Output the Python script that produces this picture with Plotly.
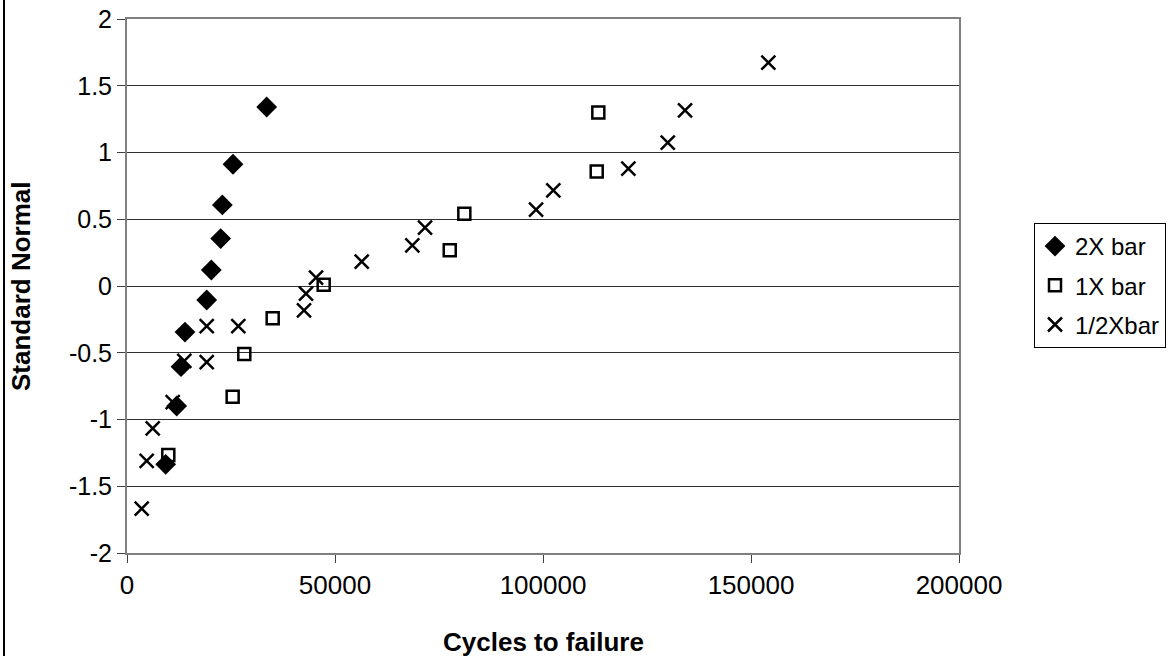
import plotly.graph_objects as go

# 2X bar (filled diamonds)
x_2x = [9300, 11940, 12980, 13940, 19160, 20270, 22520, 22920, 25480, 33580]
y_2x = [-1.336, -0.899, -0.604, -0.345, -0.105, 0.120, 0.355, 0.607, 0.912, 1.341]

# 1X bar (open squares)
x_1x = [9930, 25400, 28200, 35020, 47280, 77580, 81090, 112910, 113300]
y_1x = [-1.265, -0.829, -0.510, -0.242, 0.010, 0.267, 0.542, 0.857, 1.299]

# 1/2X bar (crosses)
x_half = [3530, 4730, 6180, 10980, 13780, 19160, 19160, 26760, 42550, 43030,
          45440, 56420, 68590, 71640, 98330, 102480, 120520, 129990, 134140, 154170]
y_half = [-1.668, -1.310, -1.066, -0.870, -0.560, -0.570, -0.300, -0.300, -0.182, -0.057,
          0.063, 0.183, 0.305, 0.437, 0.572, 0.717, 0.879, 1.074, 1.316, 1.673]

x_ticks = [0, 50000, 100000, 150000, 200000]
y_ticks = [-2, -1.5, -1, -0.5, 0, 0.5, 1, 1.5, 2]

FONT = "Liberation Sans, Arial, sans-serif"
W, H = 1172, 656
L, R, T, B = 127, 213, 19, 103
PW, PH = W - L - R, H - T - B

fig = go.Figure()
fig.add_trace(go.Scatter(x=x_2x, y=y_2x, mode="markers", name="2X bar", legendgroup="a",
                         marker=dict(symbol="diamond", size=16, color="black")))
fig.add_trace(go.Scatter(x=x_1x, y=y_1x, mode="markers", name="1X bar", legendgroup="b",
                         marker=dict(symbol="square-open", size=12, color="black",
                                     line=dict(width=2.5, color="black"))))
fig.add_trace(go.Scatter(x=x_half, y=y_half, mode="markers", name="1/2Xbar", legendgroup="c",
                         marker=dict(symbol="x-thin-open", size=14, color="black",
                                     line=dict(width=2.5, color="black"))))

fig.update_layout(
    width=W, height=H,
    margin=dict(l=L, r=R, t=T, b=B, autoexpand=False),
    paper_bgcolor="white", plot_bgcolor="white",
    font=dict(family=FONT, size=24, color="black"),
    showlegend=True,
    legend=dict(x=(1034 - L) / PW, xanchor="left", y=(H - B - 223) / PH, yanchor="top",
                bordercolor="black", borderwidth=1, bgcolor="white",
                font=dict(family=FONT, size=24, color="black"),
                tracegroupgap=5, itemwidth=30),
    xaxis=dict(range=[0, 200000], tickvals=x_ticks, ticktext=[str(v) for v in x_ticks],
               showgrid=False, zeroline=False, showline=True, linecolor="#808080",
               linewidth=2, mirror=True, ticks="outside", ticklen=8, tickcolor="#404040",
               tickfont=dict(family=FONT, size=26), automargin=False),
    yaxis=dict(range=[-2, 2], tickvals=y_ticks, ticktext=[("%g" % v) for v in y_ticks],
               showgrid=True, gridcolor="#303030", gridwidth=1, zeroline=False,
               showline=True, linecolor="#808080", linewidth=2, mirror=True,
               ticks="outside", ticklen=8, tickcolor="#404040",
               tickfont=dict(family=FONT, size=25), automargin=False),
)

# axis titles
fig.add_annotation(text="<b>Cycles to failure</b>", xref="paper", yref="paper",
                   x=(543 - L) / PW, y=(H - B - 642) / PH, xanchor="center", yanchor="middle",
                   showarrow=False, font=dict(family=FONT, size=26, color="black"))
fig.add_annotation(text="<b>Standard Normal</b>", xref="paper", yref="paper",
                   x=(21 - L) / PW, y=(H - B - 286) / PH, xanchor="center", yanchor="middle",
                   textangle=-90, showarrow=False, font=dict(family=FONT, size=26, color="black"))

# outer chart border (only left edge visible)
fig.add_shape(type="line", xref="paper", yref="paper",
              x0=(4 - L) / PW, x1=(4 - L) / PW, y0=(H - B - 660) / PH, y1=(H - B + 5) / PH,
              line=dict(color="black", width=2))

fig.write_html("out.html")
